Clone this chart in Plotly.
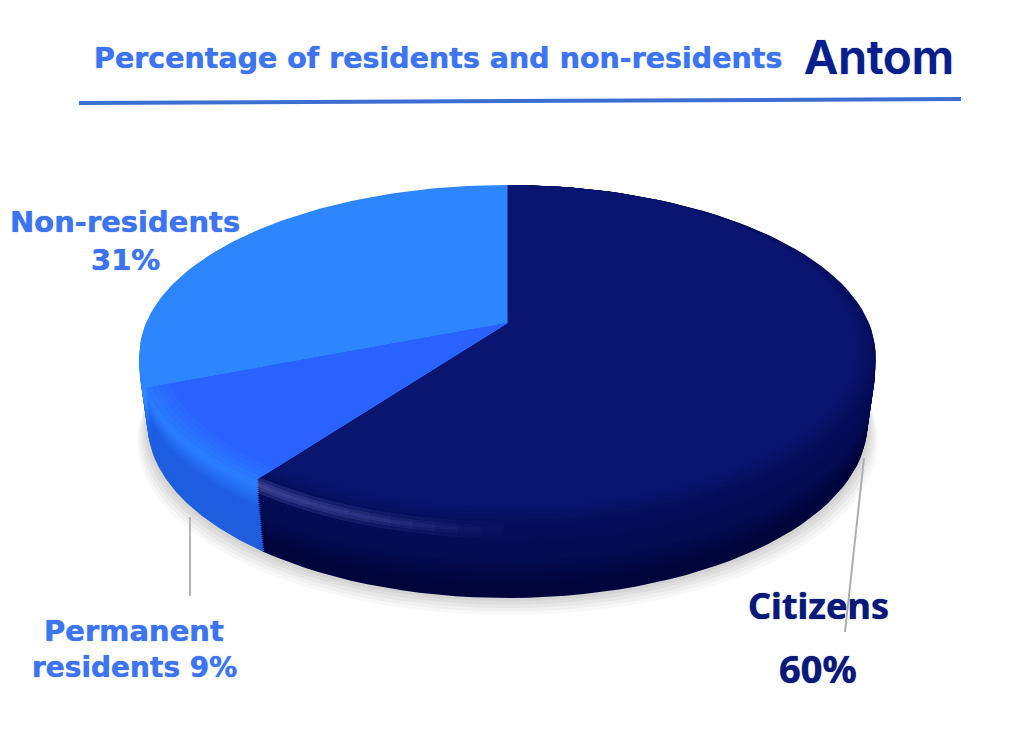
import numpy as np
import plotly.graph_objects as go

labels = ["Citizens", "Permanent residents", "Non-residents"]
shares = [60, 9, 31]

title = "Percentage of residents and non-residents"
logo = "Antom"

# side colours per slice, from the top rim (t=0) to the bottom rim (t=1)
side_stops = {
    "Citizens": [(0, "#060E5C"), (0.5, "#040C52"), (0.85, "#01053C"), (1, "#01053C")],
    "Permanent residents": [(0, "#2A7CFF"), (0.12, "#2A7CFF"), (0.4, "#205FE4"), (1, "#1F5EDC")],
    "Non-residents": [(0, "#2E86FF"), (0.3, "#2E8CFF"), (0.6, "#2068E8"), (1, "#1F5EDC")],
}
top_colors = {"Citizens": "#0A1570", "Permanent residents": "#2962FF", "Non-residents": "#2E86FF"}

# the pie is a tilted disc, so project the circle with some perspective
cx, cy = 507.5, 323
k = 0.188
A = 164
R = 361.5
mid_y = 355


def project(theta, t=0.0, r=1.0):
    u = r * np.sin(theta)
    v = r * np.cos(theta)
    x = R * u / (1 + k * v)
    y = cy - A * v / (1 + k * v)
    x = cx + x * (1 - 0.022 * max(0, (t - 0.2) / 0.8))
    y = (y - mid_y) * (1 + 0.0235 * t) + mid_y + 69 * t
    return x, y


def wedge(start, end, t=0.0, r=1.0):
    th = np.linspace(start, end, 90)
    x, y = project(th, t, r)
    x0, y0 = project(0.0, t, 0.0)
    return np.r_[x0, x, x0], np.r_[y0, y, y0]


def mix(stops, t):
    for (t0, c0), (t1, c1) in zip(stops, stops[1:]):
        if t <= t1:
            f = (t - t0) / (t1 - t0) if t1 > t0 else 0
            a = [int(c0[i:i + 2], 16) for i in (1, 3, 5)]
            b = [int(c1[i:i + 2], 16) for i in (1, 3, 5)]
            return "rgb(%d,%d,%d)" % tuple(p + (q - p) * f for p, q in zip(a, b))
    return stops[-1][1]


def add_poly(fig, x, y, color):
    fig.add_trace(go.Scatter(x=x, y=y, mode="lines", fill="toself", fillcolor=color,
                             line=dict(width=0), hoverinfo="skip", showlegend=False))


def add_line(fig, x, y, color, width):
    fig.add_trace(go.Scatter(x=x, y=y, mode="lines", line=dict(color=color, width=width),
                             hoverinfo="skip", showlegend=False))


edges = 2 * np.pi * np.cumsum([0] + shares) / sum(shares)

fig = go.Figure()

# soft shadow under the disc
for grow, alpha in [(20, 0.05), (16, 0.06), (12, 0.07), (8, 0.08), (4, 0.08)]:
    th = np.linspace(0, 2 * np.pi, 240)
    x, y = project(th, 1)
    add_poly(fig, cx + (x - cx) * (1 + grow / 700), y + grow * 0.85, "rgba(120,120,120,%.2f)" % alpha)

# leader lines sit behind the pie
add_line(fig, [190, 190], [517, 596], "#B4B4B4", 2)
add_line(fig, [864, 845], [458, 632], "#AEAEAE", 2)

# side wall, stacked from the bottom rim upwards
for t in np.linspace(1, 0.02, 34):
    for i, name in enumerate(labels):
        x, y = wedge(edges[i], edges[i + 1], t)
        add_poly(fig, x, y, mix(side_stops[name], t))

# citizens top face darkens softly towards the near rim
for j in range(8):
    x, y = wedge(edges[0], edges[1], 0, 1 - 0.007 * j)
    add_poly(fig, x, y - 0.8 * j, mix([(0, "#060E5C"), (1, top_colors["Citizens"])], j / 7))

for i, name in enumerate(labels[1:], start=1):
    x, y = wedge(edges[i], edges[i + 1])
    add_poly(fig, x, y, top_colors[name])

# bright bevel on the permanent residents slice, fading into the top face
for i, r in enumerate([1.0, 0.985, 0.97, 0.955]):
    x, y = wedge(edges[1], edges[2], 0, r)
    add_poly(fig, x, y, mix([(0, "#2A7CFF"), (1, "#2962FF")], (i + 1) / 5))
x, y = wedge(edges[1], edges[2], 0, 0.94)
add_poly(fig, x, y, top_colors["Permanent residents"])

# pale highlight along the rim of the citizens slice, fading to the right
for end in np.linspace(3.15, 3.72, 12):
    th = np.linspace(edges[1], end, 30)
    for t1, t2 in [(-0.05, 0.19), (0.0, 0.14), (0.04, 0.1)]:
        x1, y1 = project(th, t1)
        x2, y2 = project(th, t2)
        add_poly(fig, np.r_[x1, x2[::-1]], np.r_[y1, y2[::-1]], "rgba(120,140,225,0.025)")

# header rule
add_line(fig, [79, 961], [103, 99], "#3B6FD0", 4)

blue = "#3F74F0"
navy = "#0B1A78"
body = "DejaVu Sans"
texts = [
    (title, 438, 58, 28.5, blue, 700, body),
    (logo, 879, 56, 47, "#0A1E8C", 600, "Inter"),
    ("Non-residents", 125, 222, 29, blue, 700, body),
    ("31%", 125, 260, 29, blue, 700, body),
    ("Permanent", 134, 631, 29, blue, 700, body),
    ("residents 9%", 134, 667, 28, blue, 700, body),
    ("Citizens", 818, 605, 36, navy, 700, "Noto Sans"),
    ("60%", 818, 668, 38, navy, 700, "Noto Sans"),
]
annotations = [
    dict(text=s, x=x, y=y, xref="x", yref="y", showarrow=False, xanchor="center", yanchor="middle",
         font=dict(size=size, color=color, weight=weight, family=family, shadow="0 0 1px " + color))
    for s, x, y, size, color, weight, family in texts
]

fig.update_layout(
    width=1015, height=736, margin=dict(l=0, r=0, t=0, b=0),
    paper_bgcolor="white", plot_bgcolor="white", showlegend=False,
    xaxis=dict(range=[0, 1015], visible=False, fixedrange=True),
    yaxis=dict(range=[736, 0], visible=False, fixedrange=True),
    annotations=annotations,
)

fig.write_html("out.html", config={"displayModeBar": False},
               post_script="document.body.style.margin='0';")
